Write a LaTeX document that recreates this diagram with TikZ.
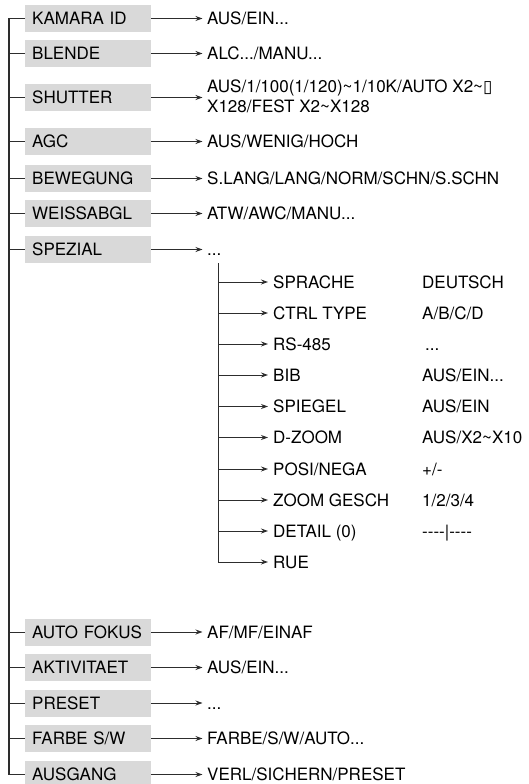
\documentclass[tikz,border=0pt]{standalone}
\usepackage{fontspec}
\setmainfont{TeX Gyre Heros}
\newfontfamily\symfont{DejaVu Sans}
\usetikzlibrary{arrows.meta}
\definecolor{boxgray}{RGB}{217,217,217}
\definecolor{linecol}{RGB}{45,45,45}
\newcommand{\mytilde}{\textasciitilde}
\begin{document}
\begin{tikzpicture}[x=1pt,y=-1pt,
  every node/.style={font=\fontsize{17}{20}\selectfont, inner sep=0pt, text=black},
  menubox/.style={fill=boxgray, anchor=west, minimum width=126pt, minimum height=27pt,
    text width=112pt, inner xsep=7pt, inner ysep=0pt, align=left, text height=12.2pt, text depth=0pt},
  valtext/.style={anchor=west, text height=12.2pt, text depth=0pt},
  trunk/.style={draw=linecol, line width=1.1pt},
  arr/.style={draw=linecol, line width=0.9pt, -{Stealth[length=7pt,width=5pt]}, shorten >=4.5pt},
  tick/.style={draw=linecol, line width=0.9pt}]
\useasboundingbox (0,0) rectangle (529,784);
\clip (0,0) rectangle (529,784);

% main trunk
\coordinate (top) at (9,18.5);
\coordinate (bot) at (9,774.5);

% menu boxes
\node[menubox] (kam) at (25,18.5) {KAMARA ID};
\node[menubox] (bl)  at (25,53.5) {BLENDE};
\node[menubox] (sh)  at (25,97.5) {SHUTTER};
\node[menubox] (agc) at (25,141.5) {AGC};
\node[menubox] (bew) at (25,178.5) {BEWEGUNG};
\node[menubox] (wb)  at (25,213.5) {WEISSABGL};
\node[menubox] (sp)  at (25,249.5) {SPEZIAL};
\node[menubox] (af)  at (25,632) {AUTO FOKUS};
\node[menubox] (ak)  at (25,667.5) {AKTIVITAET};
\node[menubox] (pr)  at (25,703) {PRESET};
\node[menubox] (fa)  at (25,738.5) {FARBE S/W};
\node[menubox] (au)  at (25,774.5) {AUSGANG};

% values
\node[valtext] (kamv) at (207,18.5) {AUS/EIN...};
\node[valtext] (blv)  at (207,53.5) {ALC.../MANU...};
\node[anchor=north west, align=left, text height=12.2pt, text depth=0pt] (shv) at (207,100.5)
  {AUS/1/100(1/120)\mytilde1/10K/AUTO X2\mytilde{\symfont\char"25AF}\\X128/FEST X2\mytilde X128};
\node[valtext] (agcv) at (207,141.5) {AUS/WENIG/HOCH};
\node[valtext] (bewv) at (207,178.5) {S.LANG/LANG/NORM/SCHN/S.SCHN};
\node[valtext] (wbv)  at (207,213.5) {ATW/AWC/MANU...};
\node[valtext] (spv)  at (207,249.5) {...};
\node[valtext] (afv)  at (207,632) {AF/MF/EINAF};
\node[valtext] (akv)  at (207,667.5) {AUS/EIN...};
\node[valtext] (prv)  at (207,703) {...};
\node[valtext] (fav)  at (207,738.5) {FARBE/S/W/AUTO...};
\node[valtext] (auv)  at (207,774.5) {VERL/SICHERN/PRESET};

% trunk and ticks
\draw[trunk] (kam.west) -- (top) -- (bot) -- (au.west);
\foreach \b in {bl,sh,agc,bew,wb,sp,af,ak,pr,fa}
  \draw[tick] (\b.west -| top) -- (\b.west);

% arrows to values
\foreach \b in {kam,bl,sh,agc,bew,wb,sp,af,ak,pr,fa,au}
  \draw[arr] (\b.east) -- (\b.east -| \b v.west);

% sub menu
\coordinate (stop) at (218,263);
\coordinate (sbot) at (218,562);
\node[valtext] (s1)  at (273,282) {SPRACHE};
\node[valtext] (s2)  at (273,313) {CTRL TYPE};
\node[valtext] (s3)  at (273,344) {RS-485};
\node[valtext] (s4)  at (273,375) {BIB};
\node[valtext] (s5)  at (273,406.5) {SPIEGEL};
\node[valtext] (s6)  at (273,437.5) {D-ZOOM};
\node[valtext] (s7)  at (273,469) {POSI/NEGA};
\node[valtext] (s8)  at (273,500) {ZOOM GESCH};
\node[valtext] (s9)  at (273,531) {DETAIL (0)};
\node[valtext] (s10) at (273,562) {RUE};

\node[valtext] (v1) at (422,282) {DEUTSCH};
\node[valtext] (v2) at (422,313) {A/B/C/D};
\node[valtext] (v3) at (425,344) {...};
\node[valtext] (v4) at (422,375) {AUS/EIN...};
\node[valtext] (v5) at (422,406.5) {AUS/EIN};
\node[valtext] (v6) at (422,437.5) {AUS/X2\mytilde X10};
\node[valtext] (v7) at (422,469) {+/-};
\node[valtext] (v8) at (422,500) {1/2/3/4};
\node[valtext] (v9) at (422,531) {-{}-{}-{}-|-{}-{}-{}-};

\draw[trunk, line width=1pt] (stop) -- (sbot);
\foreach \i in {1,...,10}
  \draw[arr, shorten >=5pt] (s\i.west -| stop) -- (s\i.west);
\end{tikzpicture}
\end{document}
